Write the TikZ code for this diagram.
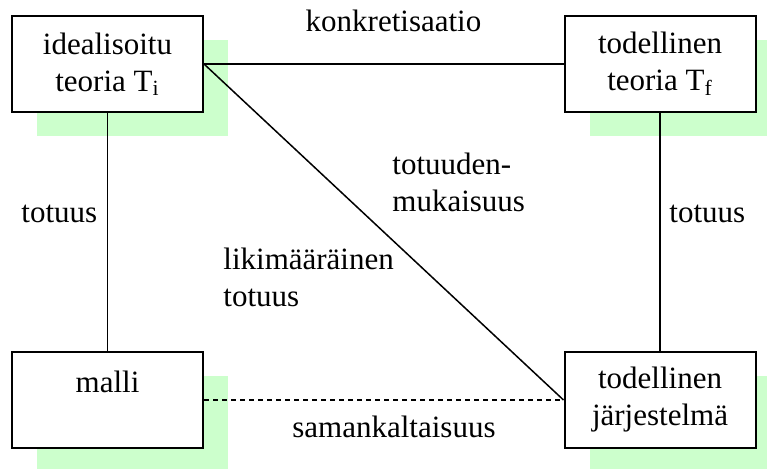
\documentclass[tikz,border=0pt]{standalone}
\usepackage{fontspec}
\setmainfont{Liberation Serif}
\usetikzlibrary{positioning,shadows}
\definecolor{shadegreen}{RGB}{204,255,204}

\begin{document}
\begin{tikzpicture}[x=0.5pt, y=-0.5pt,
  font=\fontsize{15.5}{18.5}\selectfont,
  box/.style={draw, line width=1pt, fill=white, minimum width=95.5pt,
    minimum height=48pt, align=center, inner sep=0pt,
    drop shadow={shadow xshift=12.5pt, shadow yshift=-12pt,
      fill=shadegreen, opacity=1}},
  link/.style={line width=0.75pt},
  label/.style={inner sep=0pt, align=left}]

  % Fix the page size
  \useasboundingbox (0,0) rectangle (767,469);

  % The four boxes
  \node[box] (ideal) at (107.5,64) {idealisoitu\\teoria T\textsubscript{i}};
  \node[box] (todteoria) at (660,64) {todellinen\\teoria T\textsubscript{f}};
  \node[box] (malli) at (107.5,400) {malli\\\phantom{x}};
  \node[box] (jarjestelma) at (660,400) {todellinen\\järjestelmä};

  % Connections between the boxes
  \draw[link] (ideal.east) -- (todteoria.west);
  \draw[link] (ideal.east) -- (jarjestelma.west);
  \draw[link] (ideal.south) -- (malli.north);
  \draw[link] (todteoria.south) -- (jarjestelma.north);
  \draw[link, dash pattern=on 2.5pt off 2pt] (malli.east) -- (jarjestelma.west);

  % Labels (base = last line)
  \node[label, anchor=base] (konkr) at (393.5,32) {konkretisaatio};
  \node[label, anchor=base west] (totL) at (21,223) {totuus};
  \node[label, anchor=base west] (totR) at (669,223) {totuus};
  \node[label, anchor=base west] (mukais) at (392,212) {totuuden-\\mukaisuus};
  \node[label, anchor=base west] (likim) at (223,307) {likimääräinen\\totuus};
  \node[label, anchor=base west] (saman) at (292,438) {samankaltaisuus};

\end{tikzpicture}
\end{document}
